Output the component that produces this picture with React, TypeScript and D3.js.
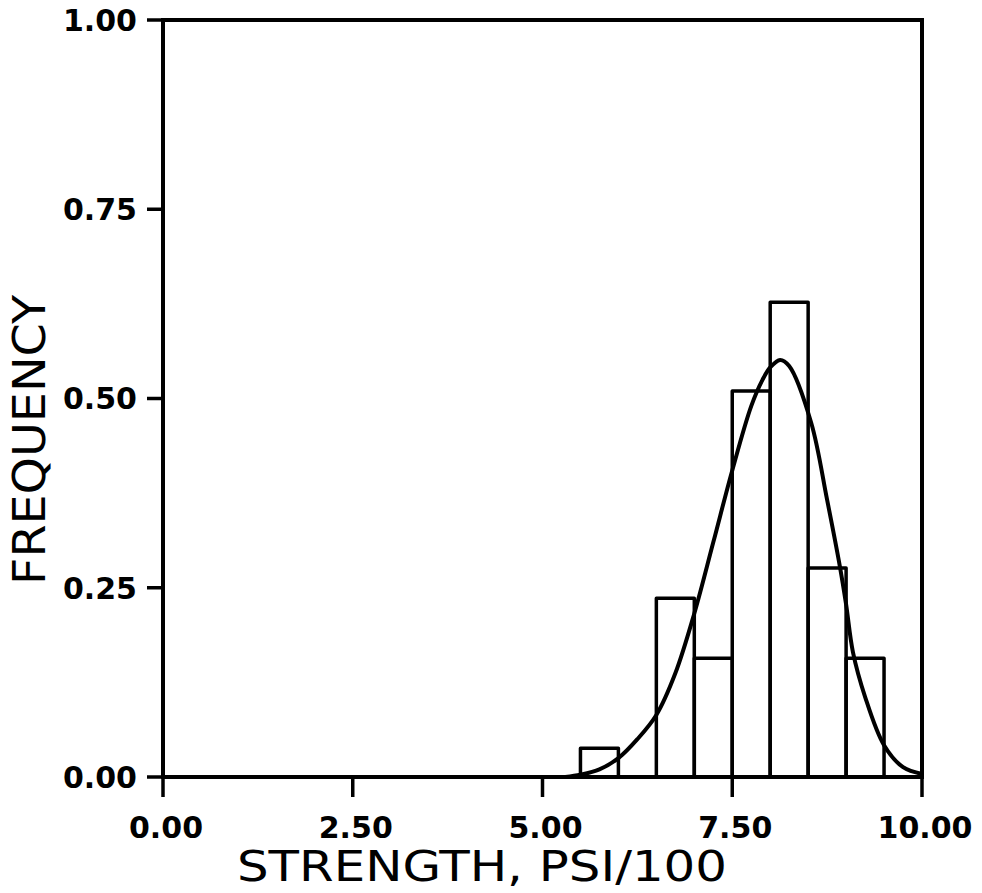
import React from 'react';
import * as d3 from 'd3';

// histogram bins (strength, psi/100) and frequency heights
const binStarts = [5.5, 6.0, 6.5, 7.0, 7.5, 8.0, 8.5, 9.0];
const binWidth = 0.5;
const binFreq = [0.038, 0, 0.236, 0.157, 0.51, 0.627, 0.276, 0.157];

// fitted curve
const curveX = [5.3, 5.5, 5.75, 6.0, 6.25, 6.5, 6.75, 7.0, 7.25, 7.5, 7.75, 7.9, 8.0, 8.13, 8.25, 8.54, 8.75, 8.92, 9.0, 9.09, 9.25, 9.5, 9.75, 10.0];
const curveY = [0, 0.003, 0.01, 0.025, 0.05, 0.082, 0.137, 0.216, 0.31, 0.405, 0.49, 0.525, 0.541, 0.551, 0.543, 0.468, 0.366, 0.277, 0.228, 0.165, 0.106, 0.042, 0.013, 0.004];

const xTicks = [0, 2.5, 5, 7.5, 10];
const yTicks = [0, 0.25, 0.5, 0.75, 1];

const W = 982;
const H = 893;
const m = { left: 163, right: 922, top: 20, bottom: 777 };

export default function App() {
  const x = d3.scaleLinear().domain([0, 10]).range([m.left, m.right]);
  const y = d3.scaleLinear().domain([0, 1]).range([m.bottom, m.top]);

  const pts: [number, number][] = curveX.map((v, i) => [v, curveY[i]]);
  const line = d3.line<[number, number]>()
    .x(d => x(d[0]))
    .y(d => y(d[1]))
    .curve(d3.curveCatmullRom.alpha(0.5));

  const font = '"DejaVu Sans", sans-serif';

  return (
    <svg width={W} height={H} style={{ position: 'absolute', left: 0, top: 0, background: '#fff' }}>
      {/* bars */}
      {binStarts.map((b, i) => binFreq[i] > 0 && (
        <rect key={i} x={x(b)} y={y(binFreq[i])} width={x(b + binWidth) - x(b)}
          height={y(0) - y(binFreq[i])} fill="none" stroke="#000" strokeWidth={3.5}
          strokeLinejoin="round" />
      ))}
      <path d={line(pts) || ''} fill="none" stroke="#000" strokeWidth={4} />

      {/* frame */}
      <rect x={m.left} y={m.top} width={m.right - m.left} height={m.bottom - m.top}
        fill="none" stroke="#000" strokeWidth={4} />

      {/* y axis */}
      {yTicks.map(t => (
        <g key={t}>
          <line x1={m.left - 16} x2={m.left} y1={y(t)} y2={y(t)} stroke="#000" strokeWidth={3.5} />
          <text x={137} y={y(t)} dy="0.36em" textAnchor="end" fontFamily={font}
            fontWeight="bold" fontSize={30}>{t.toFixed(2)}</text>
        </g>
      ))}
      {/* x axis */}
      {xTicks.map(t => (
        <g key={t}>
          <line x1={x(t)} x2={x(t)} y1={m.bottom} y2={m.bottom + 20} stroke="#000" strokeWidth={3.5} />
          <text x={x(t) + 3} y={838} textAnchor="middle" fontFamily={font}
            fontWeight="bold" fontSize={30}>{t.toFixed(2)}</text>
        </g>
      ))}

      <text x={482} y={881} textAnchor="middle" fontFamily={font} fontSize={42}
        textLength={490} lengthAdjust="spacingAndGlyphs">STRENGTH, PSI/100</text>
      <text transform="translate(45,440) rotate(-90)" textAnchor="middle" fontFamily={font}
        fontSize={44} textLength={290} lengthAdjust="spacingAndGlyphs">FREQUENCY</text>
    </svg>
  );
}
